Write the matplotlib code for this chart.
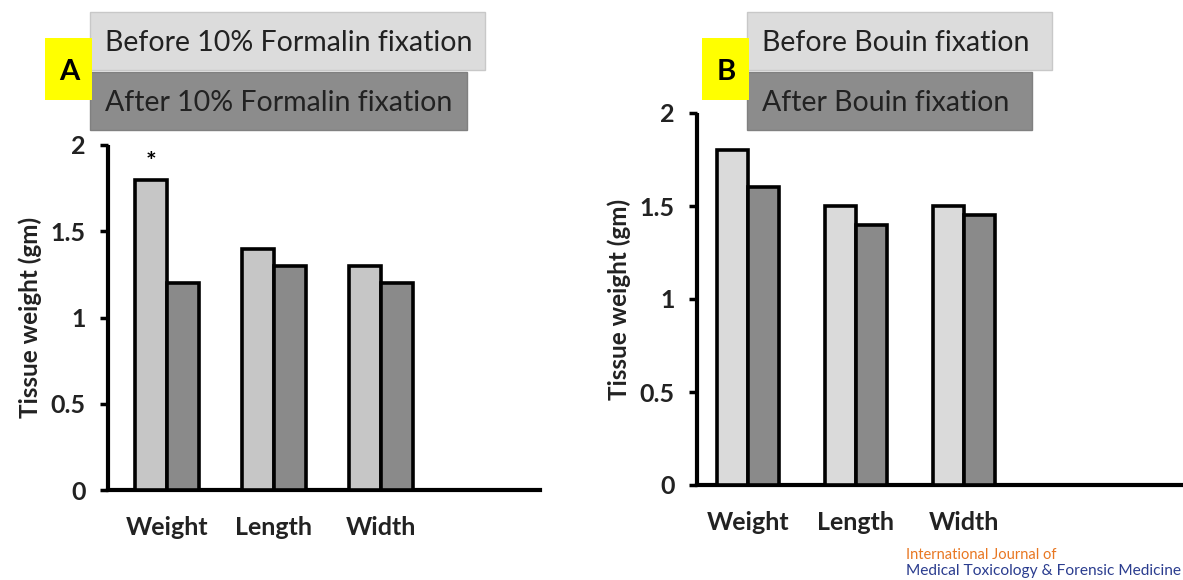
import matplotlib
matplotlib.use("Agg")
import matplotlib.pyplot as plt
from matplotlib.patches import Rectangle
import numpy as np

W, H = 1183, 580

categories = ["Weight", "Length", "Width"]
formalin_before = [1.8, 1.4, 1.3]
formalin_after = [1.2, 1.3, 1.2]
bouin_before = [1.8, 1.5, 1.5]
bouin_after = [1.6, 1.4, 1.45]
yticks = [0, 0.5, 1, 1.5, 2]
ytick_labels = ["0", "0.5", "1", "1.5", "2"]

plt.rcParams['font.family'] = ['Lato', 'DejaVu Sans']

fig = plt.figure(figsize=(W / 100, H / 100), dpi=100)


def fbox(x0, y0, x1, y1):
    # pixel box (top-left origin) -> figure fraction [l, b, w, h]
    return [x0 / W, 1 - y1 / H, (x1 - x0) / W, (y1 - y0) / H]


def panel(rect, before, after, before_col, xlim, width):
    ax = fig.add_axes(rect)
    x = np.arange(len(categories))
    ax.bar(x - width / 2, before, width, color=before_col, edgecolor='black', linewidth=2.6, zorder=3)
    ax.bar(x + width / 2, after, width, color='#8a8a8a', edgecolor='black', linewidth=2.6, zorder=3)
    ax.set_xlim(*xlim)
    ax.set_ylim(0, 2)
    ax.set_xticks(x)
    ax.set_xticklabels(categories, fontsize=18, fontweight='bold', color='#222222')
    ax.set_yticks(yticks)
    ax.set_yticklabels(ytick_labels, fontsize=18, fontweight='bold', color='#222222')
    ax.tick_params(axis='x', length=0, pad=19)
    ax.tick_params(axis='y', length=6, width=2.5, pad=10)
    for s in ['top', 'right']:
        ax.spines[s].set_visible(False)
    ax.spines['left'].set_linewidth(3)
    ax.spines['bottom'].set_linewidth(3)
    ax.spines['left'].set_capstyle('butt')
    ax.set_ylabel("Tissue weight (gm)", fontsize=17.5, fontweight='bold', color='#222222', labelpad=6)
    return ax


# panel A
axA = panel(fbox(108, 145, 540, 490), formalin_before, formalin_after, '#c6c6c6', (-0.551, 3.486), 0.30)
axA.text(-0.15, 1.83, "*", ha='center', va='bottom', fontsize=18, fontweight='bold')

# panel B
axB = panel(fbox(697, 113, 1183, 485), bouin_before, bouin_after, '#dadada', (-0.472, 4.03), 0.29)


def legend_block(x0, x_light, x_dark, letter, before_txt, after_txt):
    l = fbox(x0 + 45, 12, x_light, 70)
    d = fbox(x0 + 45, 72, x_dark, 130)
    y = fbox(x0, 38, x0 + 47, 100)
    fig.add_artist(Rectangle((l[0], l[1]), l[2], l[3], transform=fig.transFigure,
                             facecolor='#dcdcdc', edgecolor='#c8c8c8', lw=1))
    fig.add_artist(Rectangle((d[0], d[1]), d[2], d[3], transform=fig.transFigure,
                             facecolor='#8c8c8c', edgecolor='#808080', lw=1))
    fig.add_artist(Rectangle((y[0], y[1]), y[2], y[3], transform=fig.transFigure,
                             facecolor='#ffff00', edgecolor='none'))
    fig.text((x0 + 60) / W, 1 - 43 / H, before_txt, fontsize=20.5, color='#222222', va='center')
    fig.text((x0 + 60) / W, 1 - 103 / H, after_txt, fontsize=20.5, color='#222222', va='center')
    fig.text((x0 + 24) / W, 1 - 72 / H, letter, fontsize=21, fontweight='bold',
             color='black', ha='center', va='center')


legend_block(45, 485, 467, "A", "Before 10% Formalin fixation", "After 10% Formalin fixation")
legend_block(702, 1052, 1032, "B", "Before Bouin fixation", "After Bouin fixation")

fig.text(906 / W, 1 - 555 / H, "International Journal of", fontsize=10.5, color='#e87722', va='center')
fig.text(906 / W, 1 - 571 / H, "Medical Toxicology & Forensic Medicine", fontsize=11.2,
         color='#2b3d8f', va='center')

fig.savefig("out.png", dpi=100)
